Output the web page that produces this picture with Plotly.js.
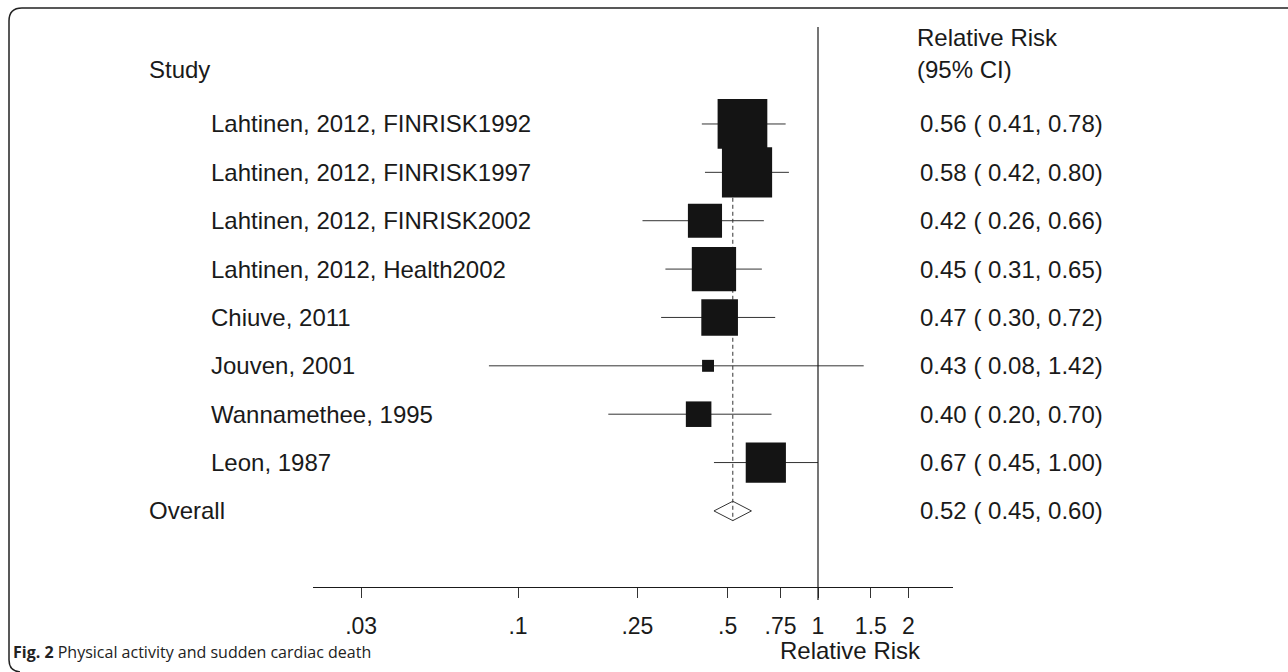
<!DOCTYPE html>
<html>
<head>
<meta charset="utf-8">
<script src="https://cdn.plot.ly/plotly-3.0.1.min.js"></script>
<style>html,body{margin:0;padding:0;background:#fff;}#chart{width:1288px;height:672px;}</style>
</head>
<body>
<div id="chart"></div>
<script>
// ---- data ----
const studies = [
  "Lahtinen, 2012, FINRISK1992",
  "Lahtinen, 2012, FINRISK1997",
  "Lahtinen, 2012, FINRISK2002",
  "Lahtinen, 2012, Health2002",
  "Chiuve, 2011",
  "Jouven, 2001",
  "Wannamethee, 1995",
  "Leon, 1987"
];
const rr = [0.56, 0.58, 0.42, 0.45, 0.47, 0.43, 0.40, 0.67];
const lo = [0.41, 0.42, 0.26, 0.31, 0.30, 0.08, 0.20, 0.45];
const hi = [0.78, 0.80, 0.66, 0.65, 0.72, 1.42, 0.70, 1.00];
const weights = [20.8, 21.2, 9.8, 16.5, 11.3, 1.2, 5.5, 13.6];
const overallLabel = "Overall";
const overallRR = 0.52, overallLo = 0.45, overallHi = 0.60;
const nullValue = 1;
const tickVals = [0.03, 0.1, 0.25, 0.5, 0.75, 1, 1.5, 2];
const tickText = [".03", ".1", ".25", ".5", ".75", "1", "1.5", "2"];
const headerStudy = "Study";
const headerRR1 = "Relative Risk";
const headerRR2 = "(95% CI)";
const xTitle = "Relative Risk";
const captionBold = "Fig. 2";
const captionText = "Physical activity and sudden cardiac death";

// ---- layout helpers ----
const W = 1288, H = 672;
const FONT = "Liberation Sans, Arial, Helvetica, sans-serif";
const FS = 24;
const ink = "#1a1a1a";
const rows = studies.map((_, i) => i + 1);
const overallRow = studies.length + 1;
const fmt = v => v.toFixed(2);
const ciText = (r, l, h) => fmt(r) + " ( " + fmt(l) + ", " + fmt(h) + ")";
const px = p => p / W;          // pixel -> paper x
const py = p => 1 - p / H;      // pixel -> paper y

// x axis pixel geometry
const x0px = 313, x1px = 953, onePx = 818, perDecade = 300;
const xLogAt = p => (p - onePx) / perDecade;   // pixel -> log10 value

// CI lines
const ciX = [], ciY = [];
rr.forEach((_, i) => { ciX.push(lo[i], hi[i], null); ciY.push(rows[i], rows[i], null); });

const traces = [
  { type: "scatter", mode: "lines", x: ciX, y: ciY,
    line: { color: "#333", width: 1 }, hoverinfo: "skip", showlegend: false },
  { type: "scatter", mode: "markers", x: rr, y: rows,
    marker: { symbol: "square", color: "#141414", opacity: 1,
              size: weights.map(w => 10.9 * Math.sqrt(w)), line: { width: 0 } },
    showlegend: false, cliponaxis: false },
  { type: "scatter", mode: "lines",
    x: [overallLo, overallRR, overallHi, overallRR, overallLo],
    y: [overallRow, overallRow - 0.2, overallRow, overallRow + 0.2, overallRow],
    line: { color: "#333", width: 1 }, showlegend: false, hoverinfo: "skip" }
];

const annotations = [];
const ann = (text, x, y, opts = {}) => annotations.push(Object.assign({
  text, x, y, xref: "paper", yref: "y", xanchor: "left", yanchor: "middle",
  showarrow: false, font: { family: FONT, size: FS, color: ink }
}, opts));

studies.forEach((s, i) => {
  ann(s, px(209), rows[i]);
  ann(ciText(rr[i], lo[i], hi[i]), px(918), rows[i]);
});
ann(overallLabel, px(147), overallRow);
ann(ciText(overallRR, overallLo, overallHi), px(918), overallRow);
ann(headerStudy, px(147), -0.12);
ann(headerRR1, px(915), -0.78);
ann(headerRR2, px(915), -0.12);
annotations.push({ text: xTitle, x: xLogAt(850), y: py(650), xref: "x", yref: "paper",
  xanchor: "center", yanchor: "middle", showarrow: false,
  font: { family: FONT, size: FS, color: ink } });

annotations.push({ text: "<b>" + captionBold + "</b> " + captionText,
  x: px(11), y: py(652), xref: "paper", yref: "paper", xanchor: "left", yanchor: "middle",
  showarrow: false, font: { family: "Open Sans, Noto Sans, sans-serif", size: 16, color: "#222" } });

const shapes = [
  // null line
  { type: "line", xref: "x", yref: "paper", x0: nullValue, x1: nullValue, y0: py(600), y1: py(27),
    line: { color: ink, width: 1.2 } },
  // overall dashed line
  { type: "line", xref: "x", yref: "y", x0: overallRR, x1: overallRR, y0: 0.5, y1: overallRow + 0.2,
    line: { color: "#333", width: 1, dash: "4px,3px" }, layer: "below" },
  // frame
  { type: "path", xref: "paper", yref: "paper",
    path: `M ${px(1288)},${py(8)} L ${px(22)},${py(8)} Q ${px(9)},${py(8)} ${px(9)},${py(21)} ` +
          `L ${px(9)},${py(660)} Q ${px(9)},${py(671)} ${px(20)},${py(672)}`,
    line: { color: "#222", width: 1.5 } }
];

const layout = {
  width: W, height: H,
  margin: { l: 0, r: 0, t: 0, b: 0 },
  paper_bgcolor: "#fff", plot_bgcolor: "rgba(0,0,0,0)",
  showlegend: false,
  xaxis: {
    type: "log",
    domain: [px(x0px), px(x1px)],
    range: [xLogAt(x0px), xLogAt(x1px)],
    anchor: "free", position: py(587),
    showline: true, linecolor: ink, linewidth: 1.2,
    showgrid: false, zeroline: false,
    ticks: "outside", ticklen: 10, tickwidth: 1, tickcolor: "#333",
    tickvals: tickVals, ticktext: tickText,
    tickfont: { family: FONT, size: 23, color: ink },
    ticklabelstandoff: 8,
    fixedrange: true
  },
  yaxis: {
    domain: [0, 1],
    range: [H / 48.37 - 1.563, -1.563],
    visible: false, fixedrange: true
  },
  annotations, shapes
};

Plotly.newPlot("chart", traces, layout, { staticPlot: true, displayModeBar: false });
</script>
</body>
</html>
